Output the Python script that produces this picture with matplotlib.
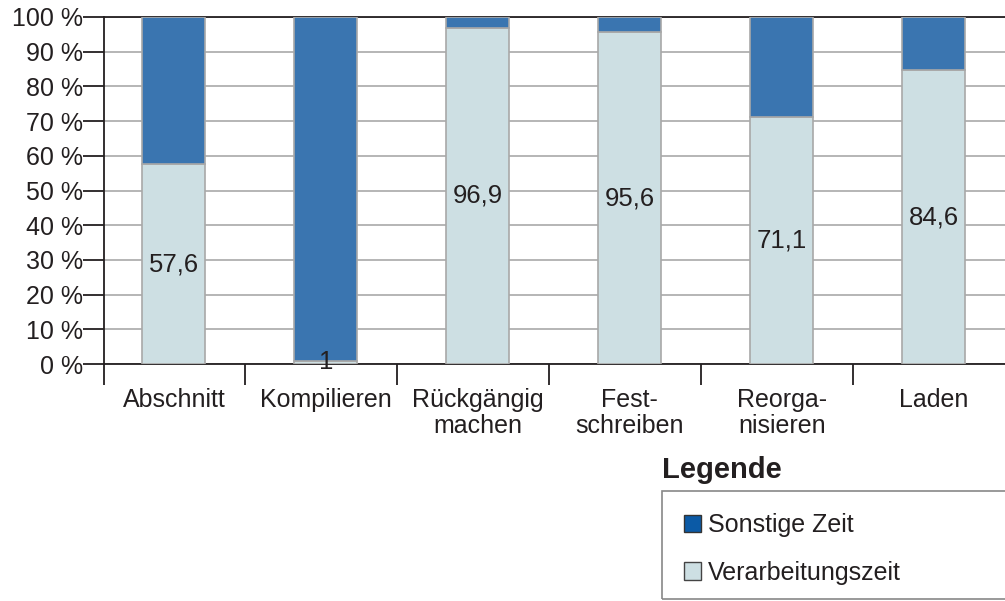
import matplotlib
matplotlib.use('Agg')
import matplotlib.pyplot as plt
from matplotlib.patches import Patch, Rectangle

# data
categories = ['Abschnitt', 'Kompilieren', 'Rückgängig\nmachen', 'Fest-\nschreiben',
              'Reorga-\nnisieren', 'Laden']
processing = [57.6, 1, 96.9, 95.6, 71.1, 84.6]
other = [100 - v for v in processing]
value_labels = ['57,6', '1', '96,9', '95,6', '71,1', '84,6']
yticks = list(range(0, 101, 10))

dark = '#3a75b0'
light = '#cddfe3'
edge = '#a8a8a8'
txt = '#231f20'

plt.rcParams['font.family'] = ['Liberation Sans', 'DejaVu Sans']
plt.rcParams['font.size'] = 18
plt.rcParams['text.color'] = txt

fig = plt.figure(figsize=(10.05, 6.01), dpi=100)
ax = fig.add_axes([104 / 1005, 1 - 364 / 601, 1 - 104 / 1005, (364 - 17) / 601])

x = list(range(len(categories)))
ax.bar(x, processing, width=0.415, color=light, edgecolor=edge, linewidth=1.2, zorder=3)
ax.bar(x, other, bottom=processing, width=0.415, color=dark, edgecolor=edge,
       linewidth=1.2, zorder=3)

for xi, v, lab in zip(x, processing, value_labels):
    ax.text(xi, v / 2, lab, ha='center', va='center', fontsize=18.5, color=txt, zorder=4)

ax.set_xlim(-0.46, 5.47)
ax.set_ylim(0, 100)
ax.set_yticks(yticks)
ax.set_yticklabels([f'{t} %' for t in yticks])
ax.yaxis.grid(True, color='#b0b0b0', linewidth=1.3, zorder=0)
ax.tick_params(axis='y', length=15, width=1.3, color=txt, labelcolor=txt, pad=0, labelsize=18)

# category labels centered, tick marks between categories
ax.set_xticks(x)
ax.set_xticklabels(categories, linespacing=1.12)
ax.tick_params(axis='x', which='major', length=0, pad=17, labelsize=18, labelcolor=txt)
ax.set_xticks([-0.46] + [i + 0.47 for i in range(5)], minor=True)
ax.tick_params(axis='x', which='minor', length=15, width=1.3, color=txt)

for s in ['left', 'bottom', 'top']:
    ax.spines[s].set_linewidth(1.3)
    ax.spines[s].set_color(txt)
ax.spines['right'].set_visible(False)

# legend
fig.text(662 / 1005, 1 - 470 / 601, 'Legende', fontsize=21, fontweight='bold',
         ha='left', va='center', color=txt)
fig.patches.append(Rectangle((662 / 1005, 1 - 599 / 601), 400 / 1005, 108 / 601,
                             transform=fig.transFigure, fill=False,
                             edgecolor='#888888', linewidth=1.2))
handles = [Patch(facecolor='#0b5aa6', edgecolor='#333333', label='Sonstige Zeit'),
           Patch(facecolor=light, edgecolor='#444444', label='Verarbeitungszeit')]
fig.legend(handles=handles, loc='upper left', bbox_to_anchor=(684 / 1005, 1 - 513 / 601),
           frameon=False, handlelength=0.68, handleheight=0.7, handletextpad=0.28,
           labelspacing=0.95, fontsize=18, borderaxespad=0, borderpad=0, labelcolor=txt)

fig.savefig('out.png', dpi=100)
